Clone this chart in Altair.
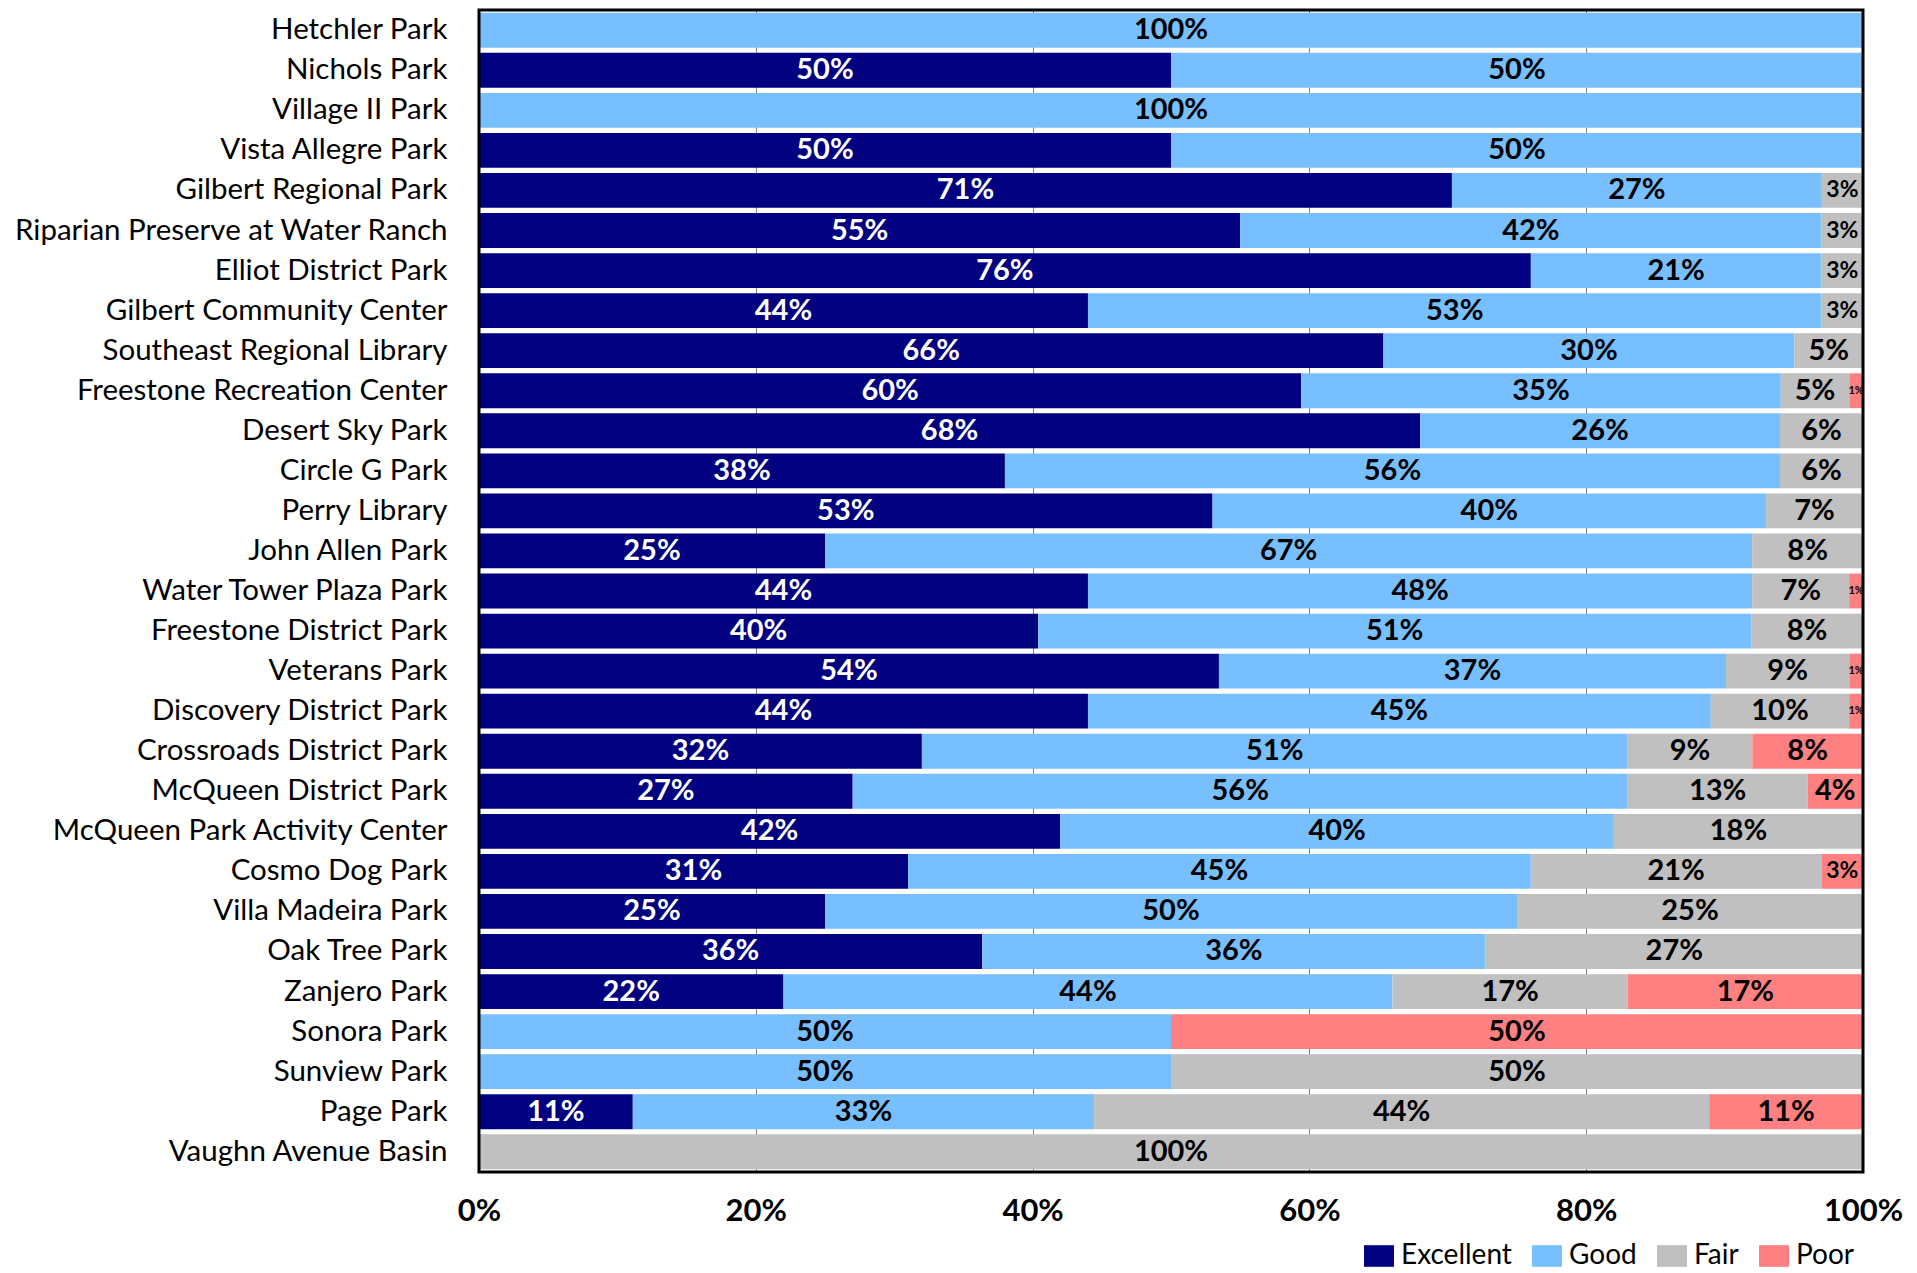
import altair as alt
import pandas as pd

parks = [
    "Hetchler Park", "Nichols Park", "Village II Park", "Vista Allegre Park",
    "Gilbert Regional Park", "Riparian Preserve at Water Ranch", "Elliot District Park",
    "Gilbert Community Center", "Southeast Regional Library", "Freestone Recreation Center",
    "Desert Sky Park", "Circle G Park", "Perry Library", "John Allen Park",
    "Water Tower Plaza Park", "Freestone District Park", "Veterans Park",
    "Discovery District Park", "Crossroads District Park", "McQueen District Park",
    "McQueen Park Activity Center", "Cosmo Dog Park", "Villa Madeira Park", "Oak Tree Park",
    "Zanjero Park", "Sonora Park", "Sunview Park", "Page Park", "Vaughn Avenue Basin",
]
excellent = [0, 50, 0, 50, 71, 55, 76, 44, 66, 60, 68, 38, 53, 25, 44, 40, 54, 44, 32, 27, 42, 31, 25, 36, 22, 0, 0, 11, 0]
good      = [100, 50, 100, 50, 27, 42, 21, 53, 30, 35, 26, 56, 40, 67, 48, 51, 37, 45, 51, 56, 40, 45, 50, 36, 44, 50, 50, 33, 0]
fair      = [0, 0, 0, 0, 3, 3, 3, 3, 5, 5, 6, 6, 7, 8, 7, 8, 9, 10, 9, 13, 18, 21, 25, 27, 17, 0, 50, 44, 100]
poor      = [0, 0, 0, 0, 0, 0, 0, 0, 0, 1, 0, 0, 0, 0, 1, 0, 1, 1, 8, 4, 0, 3, 0, 0, 17, 50, 0, 11, 0]

categories = ["Excellent", "Good", "Fair", "Poor"]
colors = ["#000080", "#77BFFF", "#C0C0C0", "#FF8080"]
ticks = [0, 0.2, 0.4, 0.6, 0.8, 1.0]

rows = []
for i, p in enumerate(parks):
    for j, vals in enumerate([excellent, good, fair, poor]):
        v = vals[i]
        if v > 0:
            rows.append({"park": p, "rating": categories[j], "order": j, "value": v})
df = pd.DataFrame(rows)

FONT = "Lato"
W, H = 1384, 1162

base = alt.Chart(df).transform_stack(
    stack="value", groupby=["park"], as_=["x0", "x1"], offset="normalize",
    sort=[alt.SortField("order", "ascending")],
).transform_calculate(
    mid="(datum.x0 + datum.x1) / 2",
    label="datum.value + '%'",
    fs="datum.value <= 1 ? 11 : (datum.value <= 3 ? 23 : 29)",
)

yenc = alt.Y(
    "park:N", sort=parks,
    scale=alt.Scale(paddingInner=0.13, paddingOuter=0.07),
    axis=alt.Axis(title=None, ticks=False, domain=False, labelFontSize=29.5, labelFont=FONT,
                  labelColor="black", labelPadding=32, minExtent=471, maxExtent=471, labelLimit=0),
)

bars = base.mark_bar().encode(
    x=alt.X("x0:Q", scale=alt.Scale(domain=[0, 1], nice=False),
            axis=alt.Axis(format="%", values=ticks, title=None, labelFontWeight="bold",
                          labelFontSize=31, labelFont=FONT, labelColor="black", labelFlush=False,
                          grid=True, gridColor="#808080", gridWidth=1,
                          ticks=False, domain=False, labelPadding=24)),
    x2="x1:Q",
    y=yenc,
    color=alt.Color("rating:N", scale=alt.Scale(domain=categories, range=colors),
                    legend=alt.Legend(orient="none", legendX=885, legendY=1231,
                                      direction="horizontal", title=None,
                                      labelFontSize=28, labelFont=FONT, labelColor="black",
                                      symbolType="M-1,-0.72H1V0.72H-1Z", symbolSize=900,
                                      symbolStrokeWidth=0, columnPadding=20, labelOffset=7,
                                      symbolOpacity=1)),
)

texts = base.mark_text(fontWeight="bold", font=FONT).encode(
    x=alt.X("mid:Q"),
    y=alt.Y("park:N", sort=parks),
    text="label:N",
    size=alt.Size("fs:Q", scale=None, legend=None),
    color=alt.condition("datum.rating == 'Excellent'", alt.value("white"), alt.value("black")),
)

frame = alt.Chart(pd.DataFrame({"k": [0]})).mark_rect(
    filled=False, stroke="black", strokeWidth=3
).encode(x=alt.value(0), x2=alt.value(W), y=alt.value(0), y2=alt.value(H))

chart = alt.layer(bars, texts, frame).properties(
    width=W, height=H,
    padding={"left": 0, "top": 0, "right": 5, "bottom": 0},
).configure(font=FONT).configure_view(stroke=None)

chart.save("out.html", embed_options={"renderer": "svg", "actions": False})
